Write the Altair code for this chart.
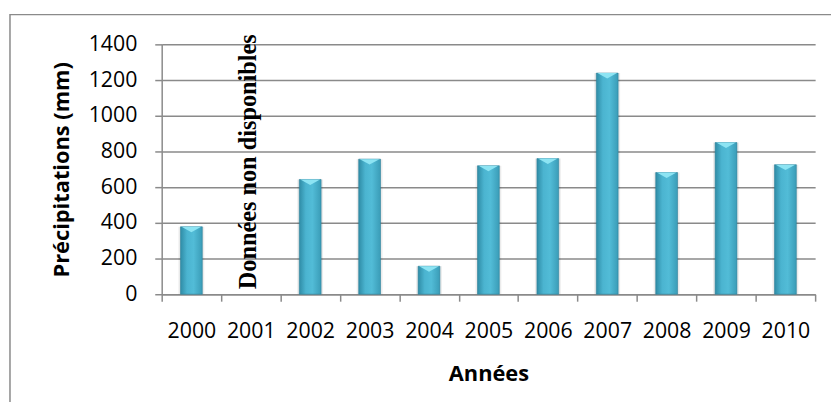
import altair as alt
import pandas as pd

years = ["2000", "2001", "2002", "2003", "2004", "2005", "2006", "2007", "2008", "2009", "2010"]
precip = [378, None, 643, 757, 157, 720, 760, 1239, 682, 850, 726]
note_year = ["2001"]
note_text = ["Données non disponibles"]
y_ticks = [0, 200, 400, 600, 800, 1000, 1200, 1400]

df = pd.DataFrame({"year": years, "precip": precip})
bars_df = df.dropna()
note_df = pd.DataFrame({"year": note_year, "text": note_text, "precip": [0]})

xscale = alt.Scale(domain=years, paddingInner=0, paddingOuter=0)
yscale = alt.Scale(domain=[0, 1400], nice=False)

x_axis = alt.Axis(title="Années", labelAngle=0, tickBand="extent",
                  tickSize=7, labelPadding=20, titlePadding=21, grid=False)
y_axis = alt.Axis(title="Précipitations (mm)", values=y_ticks, tickSize=7,
                  format="d", labelOverlap=False,
                  labelPadding=18, titlePadding=15, grid=True)

x_enc = alt.X("year:N", scale=xscale, sort=years, axis=x_axis)
y_enc = alt.Y("precip:Q", scale=yscale, axis=y_axis)

gradient = alt.Gradient(
    gradient="linear", x1=0, x2=1, y1=0, y2=0,
    stops=[alt.GradientStop(color="#2F8CA6", offset=0),
           alt.GradientStop(color="#4BB4D0", offset=0.3),
           alt.GradientStop(color="#52BCD7", offset=0.6),
           alt.GradientStop(color="#3A9CB7", offset=1)])

frame = alt.Chart(pd.DataFrame({"k": [0]})).mark_rect(
    fill="transparent", stroke="#8A8A8A", strokeWidth=1.5, clip=False
).encode(x=alt.value(-153), x2=alt.value(720), y=alt.value(-30), y2=alt.value(420))

shadow = alt.Chart(bars_df).mark_bar(size=26, color="#000000", opacity=0.08).encode(
    x=x_enc, y=y_enc)

bars = alt.Chart(bars_df).mark_bar(size=22, fill=gradient, stroke="#2E8099",
                                   strokeWidth=0.6).encode(x=x_enc, y=y_enc)

caps = alt.Chart(bars_df).mark_point(
    shape="M-0.9,0 L0.9,0 L0,0.5 Z", size=484, filled=True, fill="#8DE4F3",
    opacity=1, strokeWidth=0
).encode(x=x_enc, y=y_enc)

note = alt.Chart(note_df).mark_text(
    angle=270, align="left", baseline="middle", dx=5, dy=-2,
    font="Liberation Serif", fontWeight="bold", fontSize=24.5, color="black"
).encode(x=x_enc, y=y_enc, text="text:N")

chart = alt.layer(frame, shadow, bars, caps, note).properties(
    width=659, height=252,
    autosize=alt.AutoSizeParams(type="none"),
    padding={"left": 155, "top": 35, "right": 16, "bottom": 107},
    background="white",
).configure_view(stroke=None).configure_axis(
    labelFont="Open Sans", labelFontSize=21.5, labelColor="black",
    titleFont="Open Sans", titleFontSize=22, titleFontWeight="bold", titleColor="black",
    domainColor="#8A8A8A", domainWidth=1.5, tickColor="#8A8A8A", tickWidth=1.5,
    gridColor="#8A8A8A", gridWidth=1.5
)

chart.save("out.html", embed_options={"renderer": "svg", "actions": False})
